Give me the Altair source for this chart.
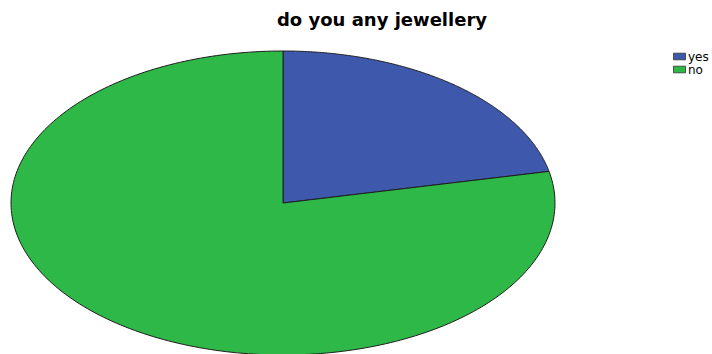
import altair as alt
import pandas as pd

# ---- data ----
categories = ["yes", "no"]
counts = [13, 47]
colors = ["#3E58AC", "#2EB848"]
title_text = ["do you any jewellery"]

df = pd.DataFrame({"answer": categories, "count": counts, "order": list(range(len(categories)))})

N = 240  # points along each slice's arc

base = (
    alt.Chart(df)
    .transform_window(cum="sum(count)", sort=[alt.SortField("order")], frame=[None, 0])
    .transform_joinaggregate(total="sum(count)")
    .transform_calculate(
        a0="2*PI*(datum.cum - datum.count)/datum.total",
        a1="2*PI*datum.cum/datum.total",
        k=f"sequence(-1, {N + 2})",
    )
    .transform_flatten(["k"])
    .transform_calculate(
        ang=f"datum.a0 + (datum.a1 - datum.a0) * clamp(datum.k, 0, {N}) / {N}",
        px=f"(datum.k < 0 || datum.k > {N}) ? 0 : sin(datum.ang)",
        py=f"(datum.k < 0 || datum.k > {N}) ? 0 : cos(datum.ang)",
    )
)

pie = base.mark_line(stroke="#1e1e1e", strokeWidth=1, strokeJoin="round").encode(
    x=alt.X("px:Q", scale=alt.Scale(domain=[-1, 1], range=[11, 555]), axis=None),
    y=alt.Y("py:Q", scale=alt.Scale(domain=[-1, 1], range=[355, 51]), axis=None),
    fill=alt.Fill(
        "answer:N",
        scale=alt.Scale(domain=categories, range=colors),
        legend=alt.Legend(
            title=None,
            orient="none",
            legendX=673,
            legendY=50,
            symbolType="M-1,-0.55H1V0.55H-1Z",
            symbolSize=144,
            symbolStrokeColor="#333333",
            symbolStrokeWidth=0.8,
            labelFont="DejaVu Sans",
            labelFontSize=12,
            labelColor="black",
            labelOffset=2,
            rowPadding=-3,
        ),
    ),
    order="k:Q",
    detail="answer:N",
)

title = alt.Chart(pd.DataFrame({"t": title_text})).mark_text(
    font="DejaVu Sans", fontWeight="bold", fontSize=18, align="center", baseline="alphabetic", color="black"
).encode(x=alt.value(382), y=alt.value(26), text="t:N")

chart = (
    alt.layer(pie, title)
    .properties(width=712, height=354, padding=0, autosize="none", background="white")
    .configure_view(stroke=None)
)

chart.save("out.html", embed_options={"renderer": "svg", "actions": False})
